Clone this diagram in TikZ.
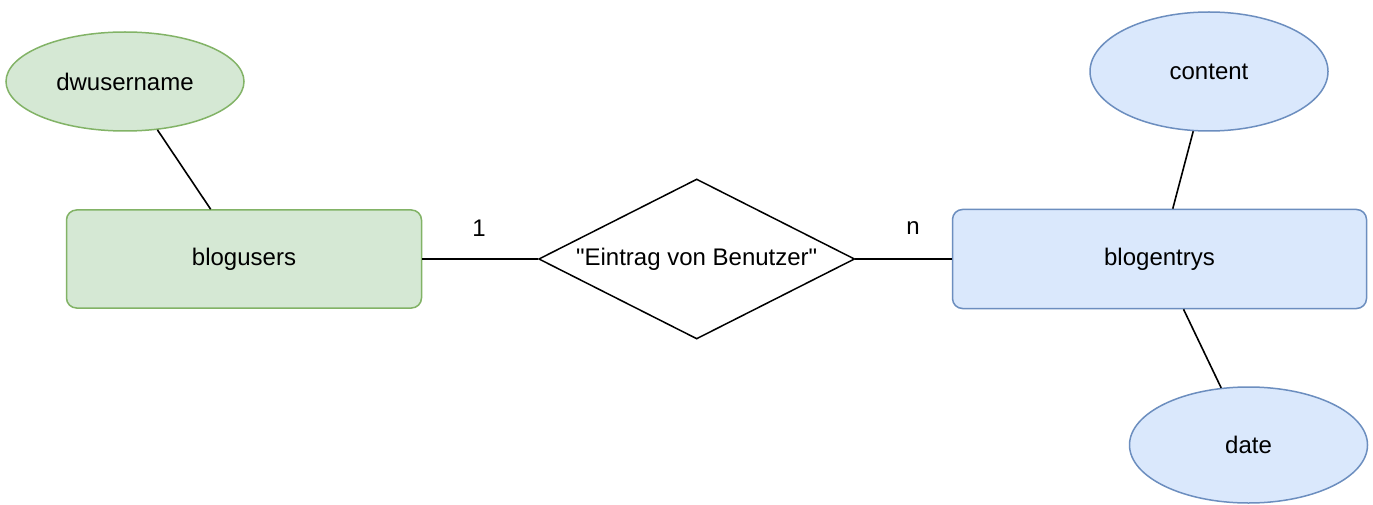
\documentclass[tikz,border=0pt]{standalone}
\usepackage{fontspec}
\setmainfont{Liberation Sans}[Ligatures=TeXOff]
\usetikzlibrary{shapes.geometric}
\definecolor{gfill}{HTML}{D5E8D4}
\definecolor{gline}{HTML}{82B366}
\definecolor{bfill}{HTML}{DAE8FC}
\definecolor{bline}{HTML}{6C8EBF}
\tikzset{
  every node/.style={font=\fontsize{24}{28}\selectfont, text=black},
  entg/.style={draw=gline, fill=gfill, line width=1.5pt, rounded corners=10pt, rectangle, inner sep=0pt},
  entb/.style={draw=bline, fill=bfill, line width=1.5pt, rounded corners=10pt, rectangle, inner sep=0pt},
  attg/.style={draw=gline, fill=gfill, line width=1.5pt, ellipse, inner sep=0pt},
  attb/.style={draw=bline, fill=bfill, line width=1.5pt, ellipse, inner sep=0pt},
  rel/.style={draw=black, fill=white, line width=1.5pt, diamond, aspect=2, inner sep=0pt},
  conn/.style={draw=black, line width=1.6pt},
  card/.style={inner sep=0pt}
}
\begin{document}
\begin{tikzpicture}[x=1pt,y=-1pt]
\useasboundingbox (0,0) rectangle (1373,505);
\fill[white] (0,0) rectangle (1373,505);
% nodes
\node[attg, minimum width=238pt, minimum height=99pt] (dw) at (125,81.5) {dwusername};
\node[entg, minimum width=355pt, minimum height=98pt] (bu) at (244,259) {blogusers};
\node[rel, minimum width=316pt, minimum height=160pt] (r) at (696.7,259) {"Eintrag von Benutzer"};
\node[entb, minimum width=414pt, minimum height=99pt] (be) at (1159.5,259) {blogentrys};
\node[attb, minimum width=238pt, minimum height=119pt] (co) at (1209,71.5) {content};
\node[attb, minimum width=238pt, minimum height=116pt] (da) at (1248.5,445) {date};
% cardinalities
\node[card] (c1) at (479,228) {1};
\node[card] (cn) at (913,228) {n};
% connectors
\draw[conn] (dw) -- (bu);
\draw[conn] (co) -- (be);
\draw[conn] (be) -- (da);
\draw[conn] (bu.east) -- (r.west);
\draw[conn] (r.east) -- (be.west);
\end{tikzpicture}
\end{document}
